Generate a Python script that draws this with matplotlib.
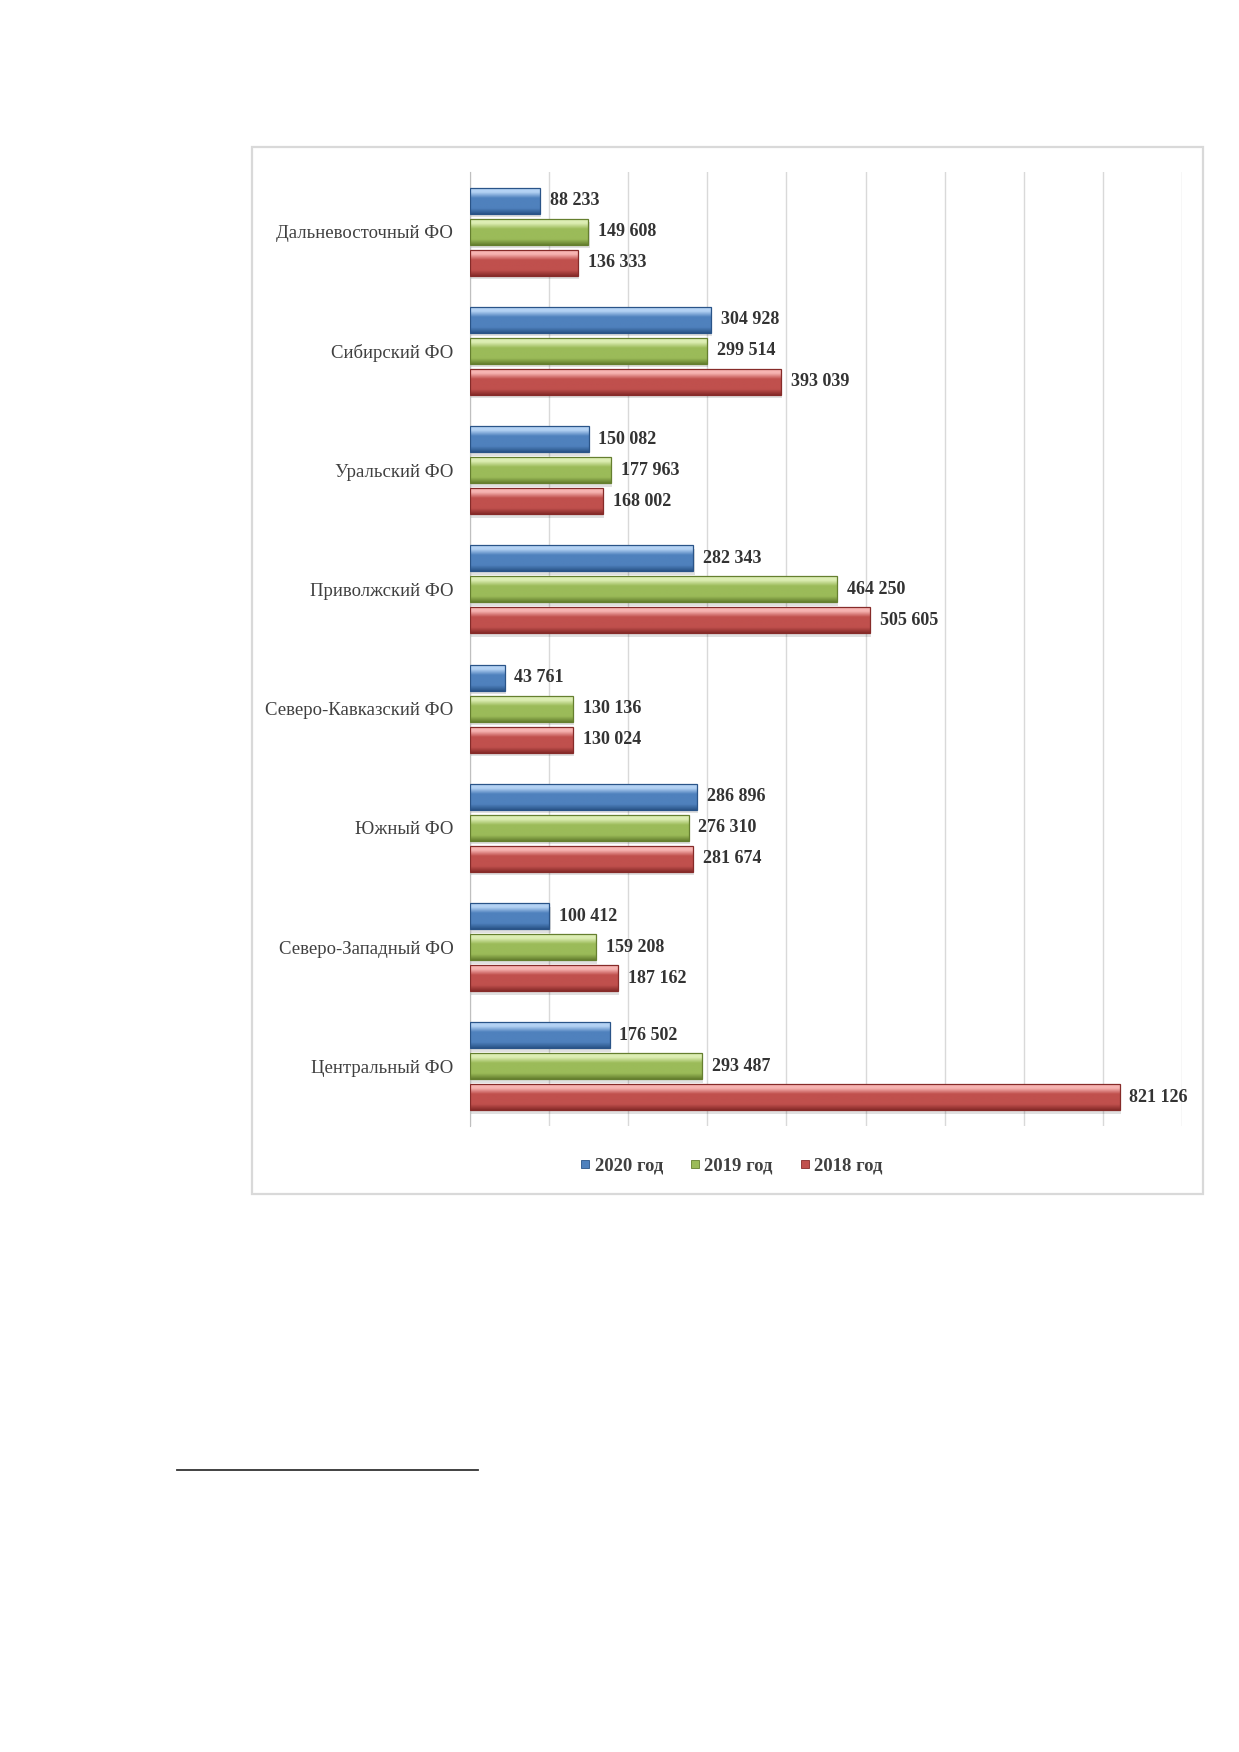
import numpy as np
import matplotlib
matplotlib.use('Agg')
import matplotlib.pyplot as plt
from matplotlib.colors import LinearSegmentedColormap
from matplotlib.lines import Line2D
from matplotlib.patches import Rectangle

regions = ['Дальневосточный ФО', 'Сибирский ФО', 'Уральский ФО', 'Приволжский ФО',
           'Северо-Кавказский ФО', 'Южный ФО', 'Северо-Западный ФО', 'Центральный ФО']
years = ['2020 год', '2019 год', '2018 год']
v2020 = [88233, 304928, 150082, 282343, 43761, 286896, 100412, 176502]
v2019 = [149608, 299514, 177963, 464250, 130136, 276310, 159208, 293487]
v2018 = [136333, 393039, 168002, 505605, 130024, 281674, 187162, 821126]

# light, base, dark for each series
palette = [('#B4D2F4', '#4F81BD', '#2A5488'),
           ('#DDEEB4', '#9BBB59', '#657F2F'),
           ('#F7B4B2', '#C0504D', '#862B29')]

plt.rcParams['font.family'] = ['Liberation Serif', 'DejaVu Serif']

W, H = 1239, 1752
fig = plt.figure(figsize=(W / 100, H / 100), dpi=100)

# chart frame
fig.patches.append(Rectangle((252 / W, 1 - 1194 / H), (1203 - 252) / W, (1194 - 147) / H,
                             transform=fig.transFigure, fill=False, edgecolor='#D9D9D9', lw=1.6))
# footnote line
fig.lines.append(Line2D([177 / W, 478 / W], [1 - 1470 / H] * 2, transform=fig.transFigure,
                        color='#333333', lw=1.3))

ax = fig.add_axes([470 / W, 1 - 1126 / H, (1182 - 470) / W, (1126 - 172) / H])

y = np.arange(len(regions))
h = 0.218
pitch = 0.26
series = [v2020, v2019, v2018]
grad = np.linspace(0, 1, 64).reshape(-1, 1)

for k, vals in enumerate(series):
    light, base, dark = palette[k]
    cmap = LinearSegmentedColormap.from_list(
        'b%d' % k, [(0, light), (0.15, light), (0.38, base), (0.78, base), (1, dark)])
    bars = ax.barh(y + (k - 1) * pitch, vals, height=h, color=base, edgecolor=dark, lw=0.9, zorder=3)
    for b, v in zip(bars, vals):
        x0, y0, bw, bh = b.get_x(), b.get_y(), b.get_width(), b.get_height()
        # soft shadow under the bar
        ax.add_patch(Rectangle((x0, y0 + 0.03), bw + 1500, bh, color='#000000', alpha=0.12,
                               lw=0, zorder=2))
        im = ax.imshow(grad, cmap=cmap, aspect='auto', origin='upper',
                       extent=(x0, x0 + bw, y0 + bh, y0), zorder=3.5)
        im.set_clip_path(b)
        ax.annotate(f'{v:,}'.replace(',', ' '), (v, b.get_y() + bh / 2), xytext=(7, 0),
                    textcoords='offset points', va='center', ha='left',
                    fontsize=13, fontweight='bold', color='#333333', zorder=5)
    for b in bars:
        b.set_facecolor('none')
        b.set_zorder(4)

ax.set_xlim(0, 900000)
ax.set_ylim(len(regions) - 0.5, -0.5)
ax.set_xticks(np.arange(0, 900001, 100000))
ax.set_xticklabels([])
ax.tick_params(axis='x', length=0)
ax.set_yticks(y)
ax.set_yticklabels(regions, fontsize=13.5, color='#404040')
ax.tick_params(axis='y', length=0, pad=12)
ax.grid(axis='x', color='#D9D9D9', lw=1, zorder=0)
ax.set_axisbelow(True)
for s in ['top', 'right', 'bottom']:
    ax.spines[s].set_visible(False)
ax.spines['left'].set_color('#BFBFBF')

handles = [Line2D([], [], ls='none', marker='s', markersize=6, markerfacecolor=p[1],
                  markeredgecolor=p[2], markeredgewidth=0.6) for p in palette]
fig.legend(handles, years, loc='center', bbox_to_anchor=(731 / W, 1 - 1166 / H), ncol=3,
           frameon=False, handlelength=0.6, handletextpad=0.2, columnspacing=1.4,
           prop={'family': ['Liberation Serif'], 'weight': 'bold', 'size': 13.5}, labelcolor='#404040')

fig.savefig('out.png', dpi=100, facecolor='white')
